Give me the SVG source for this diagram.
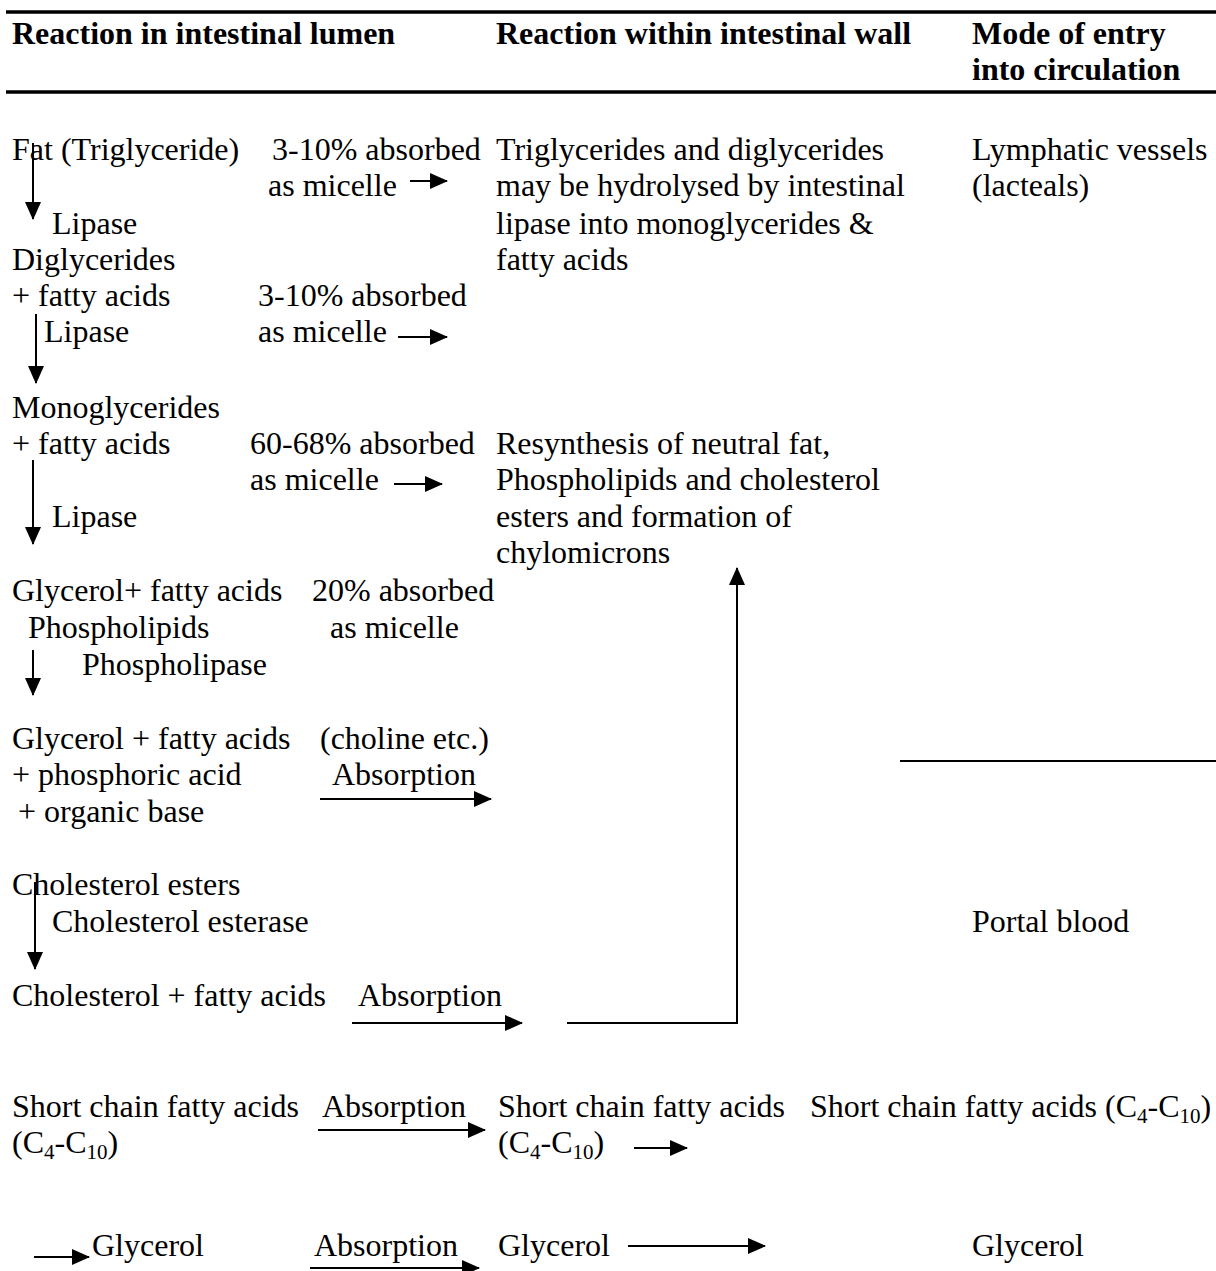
<svg xmlns="http://www.w3.org/2000/svg" width="1216" height="1271" viewBox="0 0 1216 1271">
  <style>
    .t { font-family: "Liberation Serif", "Times New Roman", serif; font-size: 32px; fill: #000; }
    .h { font-weight: bold; }
    .sub { font-size: 21px; }
    .rule { stroke: #000; stroke-width: 3.5; fill: none; }
    .ln { stroke: #000; stroke-width: 2; fill: none; }
    .arr { stroke: #000; stroke-width: 2; fill: none; marker-end: url(#ah); }
  </style>
  <defs>
    <marker id="ah" markerUnits="userSpaceOnUse" viewBox="0 0 18 16" markerWidth="18" markerHeight="16" refX="17" refY="8" orient="auto">
      <path d="M0,0 L18,8 L0,16 z" fill="#000"/>
    </marker>
  </defs>
  <rect width="1216" height="1271" fill="#fff"/>

  <!-- table header -->
  <g id="header">
    <line class="rule" x1="6" y1="12" x2="1216" y2="12"/>
    <line class="rule" x1="6" y1="92" x2="1216" y2="92"/>
    <text class="t h" x="12" y="44">Reaction in intestinal lumen</text>
    <text class="t h" x="496" y="44">Reaction within intestinal wall</text>
    <text class="t h" x="972" y="44">Mode of entry</text>
    <text class="t h" x="972" y="80">into circulation</text>
  </g>

  <!-- lumen column -->
  <g id="fat"><text class="t" x="12" y="160">Fat (Triglyceride)</text></g>
  <g id="lipase1"><text class="t" x="52" y="234">Lipase</text></g>
  <g id="diglycerides">
    <text class="t" x="12" y="270">Diglycerides</text>
    <text class="t" x="12" y="306">+ fatty acids</text>
  </g>
  <g id="lipase2"><text class="t" x="44" y="342">Lipase</text></g>
  <g id="monoglycerides">
    <text class="t" x="12" y="418">Monoglycerides</text>
    <text class="t" x="12" y="454">+ fatty acids</text>
  </g>
  <g id="lipase3"><text class="t" x="52" y="527">Lipase</text></g>
  <g id="glycerol-fa">
    <text class="t" x="12" y="601">Glycerol+ fatty acids</text>
  </g>
  <g id="phospholipids"><text class="t" x="28" y="638">Phospholipids</text></g>
  <g id="phospholipase"><text class="t" x="82" y="675">Phospholipase</text></g>
  <g id="phospho-products">
    <text class="t" x="12" y="749">Glycerol + fatty acids</text>
    <text class="t" x="12" y="785">+ phosphoric acid</text>
    <text class="t" x="18" y="822">+ organic base</text>
  </g>
  <g id="cholesterol-esters"><text class="t" x="12" y="895">Cholesterol esters</text></g>
  <g id="cholesterol-esterase"><text class="t" x="52" y="932">Cholesterol esterase</text></g>
  <g id="cholesterol-fa"><text class="t" x="12" y="1006">Cholesterol + fatty acids</text></g>
  <g id="scfa-lumen">
    <text class="t" x="12" y="1117">Short chain fatty acids</text>
    <text class="t" x="12" y="1153">(C<tspan class="sub" dy="6">4</tspan><tspan dy="-6">-C</tspan><tspan class="sub" dy="6">10</tspan><tspan dy="-6">)</tspan></text>
  </g>
  <g id="glycerol-lumen"><text class="t" x="92" y="1256">Glycerol</text></g>

  <!-- absorption labels -->
  <g id="micelle1">
    <text class="t" x="272" y="160">3-10% absorbed</text>
    <text class="t" x="268" y="196">as micelle</text>
  </g>
  <g id="micelle2">
    <text class="t" x="258" y="306">3-10% absorbed</text>
    <text class="t" x="258" y="342">as micelle</text>
  </g>
  <g id="micelle3">
    <text class="t" x="250" y="454">60-68% absorbed</text>
    <text class="t" x="250" y="490">as micelle</text>
  </g>
  <g id="micelle4">
    <text class="t" x="312" y="601">20% absorbed</text>
    <text class="t" x="330" y="638">as micelle</text>
  </g>
  <g id="absorption-choline">
    <text class="t" x="320" y="749">(choline etc.)</text>
    <text class="t" x="332" y="785">Absorption</text>
  </g>
  <g id="absorption-cholesterol"><text class="t" x="358" y="1006">Absorption</text></g>
  <g id="absorption-scfa"><text class="t" x="322" y="1117">Absorption</text></g>
  <g id="absorption-glycerol"><text class="t" x="314" y="1256">Absorption</text></g>

  <!-- intestinal wall column -->
  <g id="hydrolysis">
    <text class="t" x="496" y="160">Triglycerides and diglycerides</text>
    <text class="t" x="496" y="196">may be hydrolysed by intestinal</text>
    <text class="t" x="496" y="234">lipase into monoglycerides &amp;</text>
    <text class="t" x="496" y="270">fatty acids</text>
  </g>
  <g id="resynthesis">
    <text class="t" x="496" y="454">Resynthesis of neutral fat,</text>
    <text class="t" x="496" y="490">Phospholipids and cholesterol</text>
    <text class="t" x="496" y="527">esters and formation of</text>
    <text class="t" x="496" y="563">chylomicrons</text>
  </g>
  <g id="scfa-wall">
    <text class="t" x="498" y="1117">Short chain fatty acids</text>
    <text class="t" x="498" y="1153">(C<tspan class="sub" dy="6">4</tspan><tspan dy="-6">-C</tspan><tspan class="sub" dy="6">10</tspan><tspan dy="-6">)</tspan></text>
  </g>
  <g id="glycerol-wall"><text class="t" x="498" y="1256">Glycerol</text></g>

  <!-- circulation column -->
  <g id="lymphatic">
    <text class="t" x="972" y="160">Lymphatic vessels</text>
    <text class="t" x="972" y="196">(lacteals)</text>
  </g>
  <g id="portal"><text class="t" x="972" y="932">Portal blood</text></g>
  <g id="scfa-blood">
    <text class="t" x="810" y="1117">Short chain fatty acids (C<tspan class="sub" dy="6">4</tspan><tspan dy="-6">-C</tspan><tspan class="sub" dy="6">10</tspan><tspan dy="-6">)</tspan></text>
  </g>
  <g id="glycerol-blood"><text class="t" x="972" y="1256">Glycerol</text></g>

  <!-- connectors -->
  <g id="connectors">
    <line class="arr" x1="33" y1="143" x2="33" y2="219"/>
    <line class="arr" x1="36" y1="314" x2="36" y2="383"/>
    <line class="arr" x1="33" y1="460" x2="33" y2="544"/>
    <line class="arr" x1="33" y1="650" x2="33" y2="695"/>
    <line class="arr" x1="35" y1="882" x2="35" y2="969"/>

    <line class="arr" x1="410" y1="181" x2="447" y2="181"/>
    <line class="arr" x1="398" y1="337" x2="447" y2="337"/>
    <line class="arr" x1="394" y1="484" x2="442" y2="484"/>
    <line class="arr" x1="320" y1="799" x2="491" y2="799"/>
    <line class="arr" x1="352" y1="1023" x2="522" y2="1023"/>
    <polyline class="arr" points="567,1023 737,1023 737,568"/>
    <line class="ln" x1="900" y1="761" x2="1216" y2="761"/>

    <line class="arr" x1="318" y1="1130" x2="485" y2="1130"/>
    <line class="arr" x1="634" y1="1148" x2="687" y2="1148"/>
    <line class="arr" x1="34" y1="1257" x2="89" y2="1257"/>
    <line class="arr" x1="310" y1="1268" x2="479" y2="1268"/>
    <line class="arr" x1="628" y1="1246" x2="765" y2="1246"/>
  </g>
</svg>
